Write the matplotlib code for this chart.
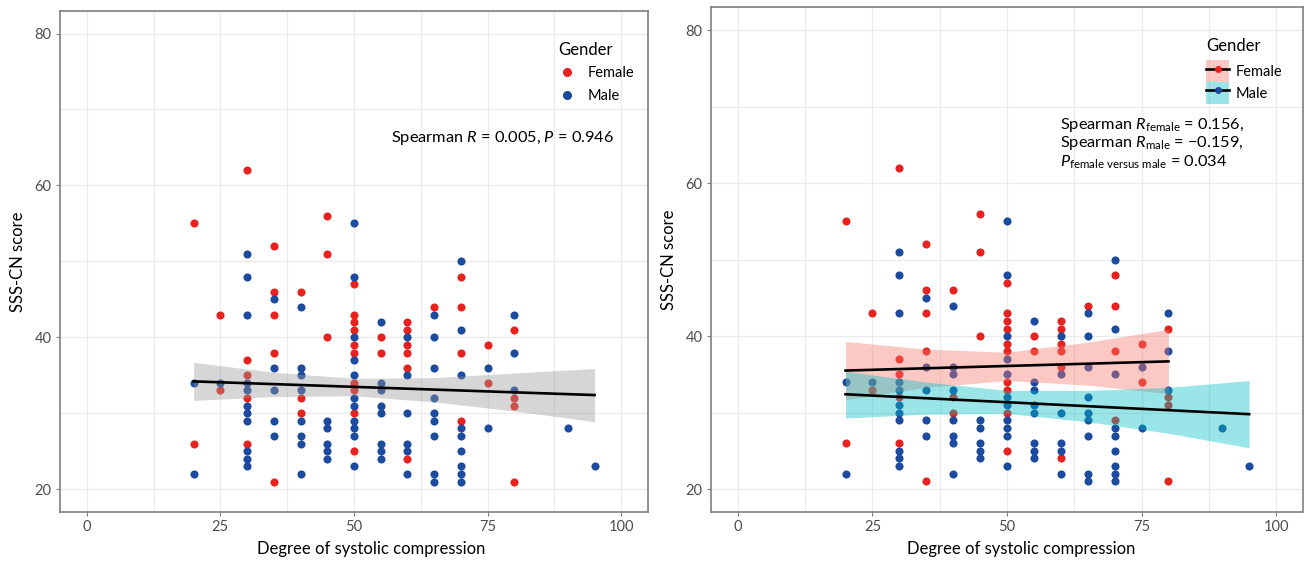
import numpy as np
import matplotlib
matplotlib.use("Agg")
import matplotlib.pyplot as plt
from matplotlib.lines import Line2D
from matplotlib.patches import Patch, Rectangle
from matplotlib.legend_handler import HandlerPatch

# scores, grouped by degree of systolic compression
female_x = [20, 20, 25, 25, 30, 30, 30, 30, 30, 35, 35, 35, 35, 35,
            40, 40, 40, 45, 45, 45,
            50, 50, 50, 50, 50, 50, 50, 50, 50, 50,
            55, 55, 60, 60, 60, 60, 60, 60, 65,
            70, 70, 70, 70, 75, 75, 80, 80, 80, 80]
female_y = [55, 26, 43, 33, 62, 37, 35, 32, 26, 52, 46, 43, 38, 21,
            46, 32, 30, 56, 51, 40,
            47, 43, 42, 41, 39, 38, 34, 33, 30, 25,
            40, 38, 42, 41, 39, 38, 36, 24, 44,
            48, 44, 38, 29, 39, 34, 41, 32, 31, 21]

male_x = [20, 20, 25,
          30, 30, 30, 30, 30, 30, 30, 30, 30, 30, 30,
          35, 35, 35, 35, 35,
          40, 40, 40, 40, 40, 40, 40, 40,
          45, 45, 45, 45, 45,
          50, 50, 50, 50, 50, 50, 50, 50, 50, 50, 50,
          55, 55, 55, 55, 55, 55, 55, 55,
          60, 60, 60, 60, 60, 60,
          65, 65, 65, 65, 65, 65, 65, 65, 65,
          70, 70, 70, 70, 70, 70, 70, 70, 70,
          75, 75, 80, 80, 80, 90, 95]
male_y = [34, 22, 34,
          51, 48, 43, 34, 33, 31, 30, 29, 25, 24, 23,
          45, 36, 33, 29, 27,
          44, 36, 35, 33, 29, 27, 26, 22,
          29, 28, 26, 25, 24,
          55, 48, 40, 37, 35, 32, 31, 29, 28, 27, 23,
          42, 34, 33, 31, 30, 26, 25, 24,
          40, 35, 30, 26, 25, 22,
          43, 40, 36, 32, 30, 29, 27, 22, 21,
          50, 41, 35, 28, 27, 25, 23, 22, 21,
          36, 28, 43, 38, 33, 28, 23]

# fitted lines and 95% bands as drawn in the chart (overlapping points hide
# part of the data, so the fits are read off the picture)
all_fit_x = [20, 95]
all_fit_y = [34.2, 32.4]
all_band_x = [20, 35, 50, 65, 80, 95]
all_band_hi = [36.7, 35.4, 34.6, 34.7, 35.3, 35.9]
all_band_lo = [31.7, 32.2, 32.3, 31.5, 30.3, 28.9]

female_fit_x = [20, 80]
female_fit_y = [35.5, 36.7]
female_band_x = [20, 35, 50, 65, 80]
female_band_hi = [39.3, 38.3, 37.9, 39.2, 40.9]
female_band_lo = [31.7, 33.3, 34.2, 33.6, 32.5]

male_fit_x = [20, 95]
male_fit_y = [32.4, 29.8]
male_band_x = [20, 35, 50, 65, 80, 95]
male_band_hi = [35.4, 34.0, 32.9, 32.9, 33.3, 34.2]
male_band_lo = [29.3, 29.8, 29.9, 28.8, 27.3, 25.4]

x_ticks = [0, 25, 50, 75, 100]
y_ticks = [20, 40, 60, 80]

RED = "#E8231F"
BLUE = "#1B4A9E"
PINK = "#F8766D"
CYAN = "#00BFC4"
GRID = "#EBEBEB"
FRAME = "#7F7F7F"

plt.rcParams["font.family"] = ["Lato", "DejaVu Sans"]
plt.rcParams["mathtext.fontset"] = "custom"
plt.rcParams["mathtext.rm"] = "Lato"
plt.rcParams["mathtext.it"] = "Lato:italic"


#Shared look of both panels.
def styleAxes(ax, labelX):
    ax.set_xlim(-5, 105)
    ax.set_ylim(17, 83)
    ax.set_xticks(x_ticks)
    ax.set_yticks(y_ticks)
    ax.set_xticks([12.5, 37.5, 62.5, 87.5], minor=True)
    ax.set_yticks([30, 50, 70], minor=True)
    ax.grid(True, which="both", color=GRID, linewidth=0.9, zorder=0)
    ax.set_axisbelow(True)
    for sp in ax.spines.values():
        sp.set_color(FRAME)
        sp.set_linewidth(1.2)
    ax.tick_params(which="major", length=3, color=FRAME, pad=3, labelsize=10.5,
                   labelcolor="#4D4D4D")
    ax.tick_params(which="minor", length=0)
    ax.set_xlabel("Degree of systolic compression", fontsize=12, labelpad=5)
    ax.set_ylabel("SSS-CN score", fontsize=12, labelpad=6)
    ax.xaxis.set_label_coords(labelX, -0.058)


#Legend key box that fills the whole row, like ggplot's fill keys.
def fullKey(legend, orig_handle, xdescent, ydescent, width, height, fontsize):
    extra = 0.5 * legend.labelspacing * fontsize
    return Rectangle((-xdescent, -ydescent - extra), width, height + 2 * extra)


fig = plt.figure(figsize=(13.07, 5.61), dpi=100)
ax1 = fig.add_axes([0.0459, 0.0873, 0.4499, 0.8936])
ax2 = fig.add_axes([0.5440, 0.0873, 0.4529, 0.8996])

for ax in (ax1, ax2):
    ax.scatter(female_x, female_y, s=34, color=RED, linewidths=0, zorder=2)
    ax.scatter(male_x, male_y, s=34, color=BLUE, linewidths=0, zorder=2)

# left panel: one line for everybody
ax1.fill_between(all_band_x, all_band_lo, all_band_hi, color="#999999", alpha=0.4,
                 linewidth=0, zorder=3)
ax1.plot(all_fit_x, all_fit_y, color="black", linewidth=1.9, zorder=4)
styleAxes(ax1, 0.529)
ax1.text(77.7, 66.2, r"Spearman $\mathit{R}$ = 0.005, $\mathit{P}$ = 0.946",
         ha="center", va="center", fontsize=11.8)
leg1 = ax1.legend(handles=[Line2D([], [], marker="o", linestyle="", color=RED, markersize=5.5),
                           Line2D([], [], marker="o", linestyle="", color=BLUE, markersize=5.5)],
                  labels=["Female", "Male"], title="Gender", loc="upper left",
                  bbox_to_anchor=(0.835, 0.953), frameon=False, fontsize=10.5,
                  title_fontsize=12, handlelength=1.2, handletextpad=0.8,
                  borderpad=0, labelspacing=0.6)
leg1._legend_box.align = "left"

# right panel: one line per gender
ax2.fill_between(female_band_x, female_band_lo, female_band_hi, color=PINK, alpha=0.4,
                 linewidth=0, zorder=3)
ax2.plot(female_fit_x, female_fit_y, color="black", linewidth=1.9, zorder=4)
ax2.fill_between(male_band_x, male_band_lo, male_band_hi, color=CYAN, alpha=0.4,
                 linewidth=0, zorder=3)
ax2.plot(male_fit_x, male_fit_y, color="black", linewidth=1.9, zorder=4)
styleAxes(ax2, 0.524)
ax2.text(59.9, 67.6, r"Spearman $\mathit{R}_{\mathrm{female}}$ = 0.156,",
         ha="left", va="center", fontsize=11.8)
ax2.text(59.9, 65.3, r"Spearman $\mathit{R}_{\mathrm{male}}$ = $-$0.159,",
         ha="left", va="center", fontsize=11.8)
ax2.text(59.9, 62.8, r"$\mathit{P}_{\mathrm{female\ versus\ male}}$ = 0.034",
         ha="left", va="center", fontsize=11.8)
h_f = (Patch(facecolor=PINK, alpha=0.4, linewidth=0),
       Line2D([], [], color="black", linewidth=1.9, marker="o", markersize=4,
              markerfacecolor=RED, markeredgecolor=RED))
h_m = (Patch(facecolor=CYAN, alpha=0.4, linewidth=0),
       Line2D([], [], color="black", linewidth=1.9, marker="o", markersize=4,
              markerfacecolor=BLUE, markeredgecolor=BLUE))
leg2 = ax2.legend(handles=[h_f, h_m], labels=["Female", "Male"], title="Gender",
                  loc="upper left", bbox_to_anchor=(0.824, 0.953), frameon=False,
                  fontsize=10.5, title_fontsize=12, handlelength=1.6, handleheight=1.7,
                  handletextpad=0.4, borderpad=0, labelspacing=0.15,
                  handler_map={Patch: HandlerPatch(patch_func=fullKey)})
leg2._legend_box.align = "left"
leg2._legend_box.sep = 5

fig.savefig("out.png", dpi=100)
